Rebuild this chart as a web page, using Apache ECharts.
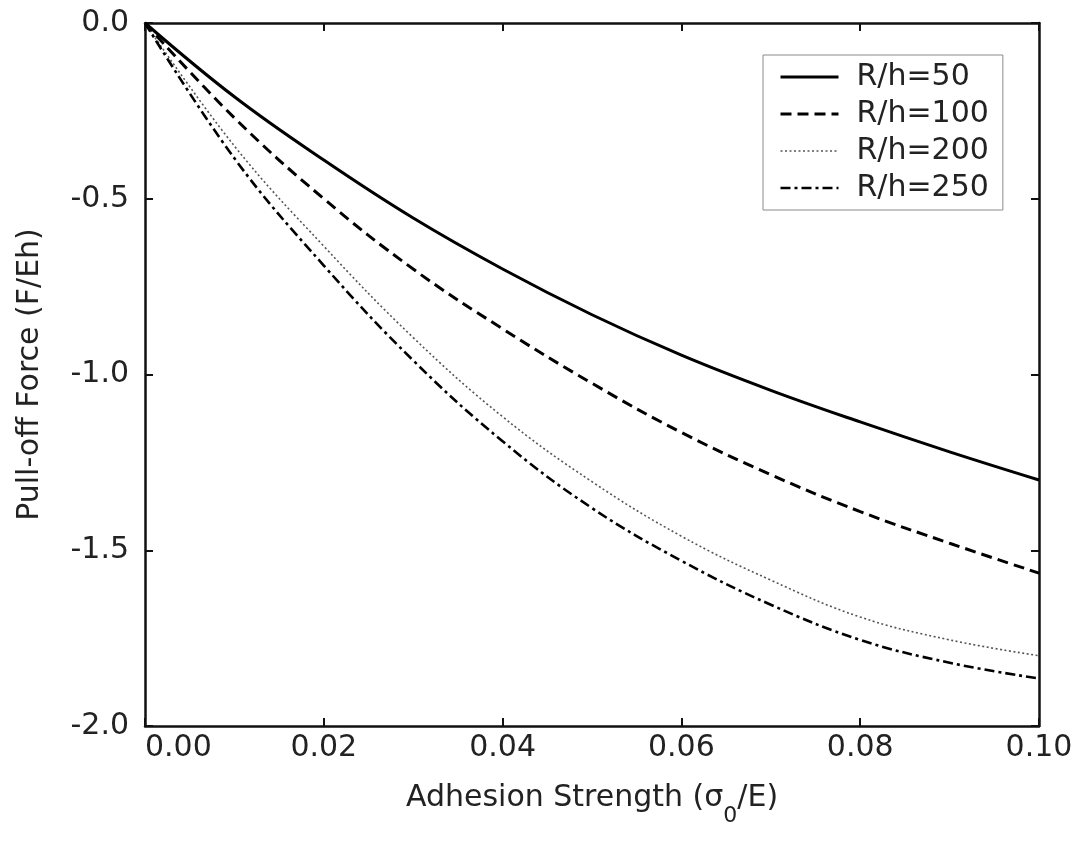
<!DOCTYPE html>
<html>
<head>
<meta charset="utf-8">
<script src="https://cdn.jsdelivr.net/npm/echarts@6/dist/echarts.min.js"></script>
<style>
html,body{margin:0;padding:0;background:#fff;}
#chart{width:1079px;height:844px;}
</style>
</head>
<body>
<div id="chart"></div>
<script>
var xValues = [0, 0.01, 0.02, 0.03, 0.04, 0.05, 0.06, 0.07, 0.08, 0.09, 0.10];
var seriesNames = ['R/h=50', 'R/h=100', 'R/h=200', 'R/h=250'];
var rh50  = [0, -0.21, -0.39, -0.555, -0.70, -0.83, -0.945, -1.045, -1.135, -1.22, -1.30];
var rh100 = [0, -0.27, -0.50, -0.70, -0.87, -1.025, -1.165, -1.285, -1.39, -1.48, -1.565];
var rh200 = [0, -0.35, -0.635, -0.895, -1.12, -1.305, -1.46, -1.585, -1.69, -1.755, -1.80];
var rh250 = [0, -0.385, -0.69, -0.96, -1.19, -1.38, -1.53, -1.655, -1.755, -1.82, -1.865];
var xTicks = [0, 0.02, 0.04, 0.06, 0.08, 0.10];
var yTicks = [0, -0.5, -1.0, -1.5, -2.0];

function pairs(ys) { return xValues.map(function (x, i) { return [x, ys[i]]; }); }

var font = 'DejaVu Sans, Liberation Sans, Arial, sans-serif';
var fs = 30;
var txt = '#222';
var axisLineStyle = { color: '#111', width: 2.5 };

var styles = [
  { color: '#000', width: 3, type: 'solid' },
  { color: '#000', width: 3, type: [11, 6] },
  { color: '#555', width: 1.6, type: [2, 2.5] },
  { color: '#000', width: 2.6, type: [10, 4, 3, 4] }
];
var seriesData = [rh50, rh100, rh200, rh250];

var chart = echarts.init(document.getElementById('chart'), null, { renderer: 'canvas' });
var baseX = {
  type: 'value', min: xTicks[0], max: xTicks[xTicks.length - 1], interval: 0.02,
  axisLine: { show: true, onZero: false, lineStyle: axisLineStyle },
  axisTick: { show: true, inside: true, length: 8, lineStyle: { color: '#111', width: 2 } },
  splitLine: { show: false }
};
var baseY = {
  type: 'value', min: yTicks[yTicks.length - 1], max: yTicks[0], interval: 0.5,
  axisLine: { show: true, onZero: false, lineStyle: axisLineStyle },
  axisTick: { show: true, inside: true, length: 8, lineStyle: { color: '#111', width: 2 } },
  splitLine: { show: false }
};

var option = {
  backgroundColor: '#fff',
  animation: false,
  grid: { left: 145, right: 40, top: 23, bottom: 118, containLabel: false },
  legend: {
    data: seriesNames.map(function (n, i) {
      return { name: n, lineStyle: { width: styles[i].width, type: styles[i].type, color: styles[i].color } };
    }),
    orient: 'vertical',
    left: 763, top: 55,
    padding: [7, 14, 7, 16],
    itemWidth: 58, itemHeight: 14, itemGap: 7,
    borderColor: '#8a8a8a', borderWidth: 1,
    itemStyle: { color: 'rgba(0,0,0,0)', borderWidth: 0, opacity: 0 },
    textStyle: { fontFamily: font, fontSize: fs, color: txt, lineHeight: 30, padding: [0, 0, 0, 13] }
  },
  xAxis: [
    Object.assign({}, baseX, {
      position: 'bottom',
      axisLabel: { fontFamily: font, fontSize: fs, color: txt, margin: 7, alignMinLabel: 'left',
        formatter: function (v) { return v.toFixed(2); } },
      name: '{n|Adhesion Strength (σ}{s|0}{n|/E)}',
      nameLocation: 'middle', nameGap: 57,
      nameTextStyle: { rich: {
        n: { fontFamily: font, fontSize: fs, color: txt },
        s: { fontFamily: font, fontSize: 22, color: txt, verticalAlign: 'bottom', padding: [0, 0, -14, 0] }
      } }
    }),
    Object.assign({}, baseX, { position: 'top', axisLabel: { show: false } })
  ],
  yAxis: [
    Object.assign({}, baseY, {
      position: 'left',
      axisLabel: { fontFamily: font, fontSize: fs, color: txt, margin: 16,
        formatter: function (v) { return v.toFixed(1); } },
      name: 'Pull-off Force (F/Eh)',
      nameLocation: 'middle', nameGap: 100,
      nameTextStyle: { fontFamily: font, fontSize: fs, color: txt }
    }),
    Object.assign({}, baseY, { position: 'right', axisLabel: { show: false } })
  ],
  series: seriesNames.map(function (n, i) {
    return { name: n, type: 'line', data: pairs(seriesData[i]), smooth: 0.4, showSymbol: false, symbol: 'none',
      lineStyle: styles[i], itemStyle: { color: styles[i].color } };
  })
};
chart.setOption(option);
</script>
</body>
</html>
